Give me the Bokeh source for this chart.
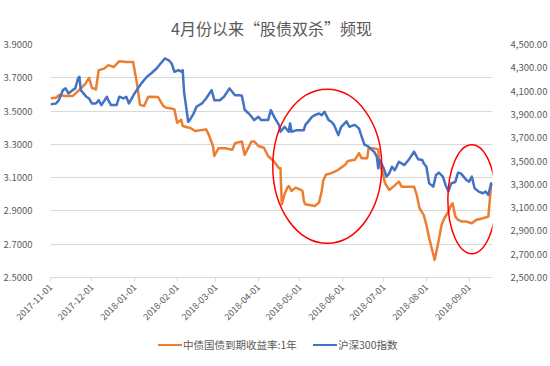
import math
import pandas as pd
from bokeh.plotting import figure
from bokeh.layouts import column
from bokeh.models import (Range1d, LinearAxis, FixedTicker, NumeralTickFormatter,
                          DatetimeTickFormatter, ColumnDataSource, Div)
from bokeh.embed import file_html
from bokeh.resources import INLINE

title_text = "4月份以来“股债双杀”频现"
bond_name = "中债国债到期收益率:1年"
index_name = "沪深300指数"

bond_dates = ["2017-11-01", "2017-11-05", "2017-11-07", "2017-11-12", "2017-11-17", "2017-11-21",
              "2017-11-26", "2017-11-29", "2017-12-01", "2017-12-04", "2017-12-06", "2017-12-10",
              "2017-12-13", "2017-12-17", "2017-12-21", "2017-12-26", "2017-12-31", "2018-01-03",
              "2018-01-05", "2018-01-08", "2018-01-11", "2018-01-18", "2018-01-22", "2018-01-24",
              "2018-01-28", "2018-01-30", "2018-02-01", "2018-02-04", "2018-02-05", "2018-02-11",
              "2018-02-14", "2018-02-22", "2018-02-24", "2018-02-27", "2018-02-28", "2018-03-03",
              "2018-03-08", "2018-03-13", "2018-03-15", "2018-03-20", "2018-03-22", "2018-03-27",
              "2018-03-29", "2018-04-01", "2018-04-05", "2018-04-08", "2018-04-12", "2018-04-16",
              "2018-04-17", "2018-04-18", "2018-04-20", "2018-04-22", "2018-04-23", "2018-04-25",
              "2018-04-28", "2018-05-01", "2018-05-03", "2018-05-04", "2018-05-05", "2018-05-12",
              "2018-05-15", "2018-05-17", "2018-05-18", "2018-05-20", "2018-05-24", "2018-05-29",
              "2018-06-03", "2018-06-05", "2018-06-10", "2018-06-13", "2018-06-15", "2018-06-19",
              "2018-06-20", "2018-06-24", "2018-06-27", "2018-06-28", "2018-06-30", "2018-07-02",
              "2018-07-05", "2018-07-08", "2018-07-12", "2018-07-14", "2018-07-23", "2018-07-25",
              "2018-07-27", "2018-07-30", "2018-08-01", "2018-08-03", "2018-08-07", "2018-08-10",
              "2018-08-12", "2018-08-14", "2018-08-17", "2018-08-19", "2018-08-20", "2018-08-22",
              "2018-08-24", "2018-08-27", "2018-08-30", "2018-09-03", "2018-09-06", "2018-09-11",
              "2018-09-15", "2018-09-17"]
bond_yield = [3.577, 3.580, 3.596, 3.590, 3.590, 3.620,
              3.660, 3.700, 3.640, 3.630, 3.746, 3.755,
              3.776, 3.765, 3.800, 3.795, 3.795, 3.656,
              3.537, 3.530, 3.586, 3.585, 3.530, 3.520,
              3.515, 3.510, 3.430, 3.447, 3.410, 3.397,
              3.380, 3.390, 3.357, 3.290, 3.230, 3.277,
              3.277, 3.267, 3.307, 3.317, 3.237, 3.317,
              3.317, 3.290, 3.280, 3.230, 3.200, 3.157,
              3.157, 2.940, 3.000, 3.040, 3.050, 3.020,
              3.040, 3.030, 3.020, 2.960, 2.940, 2.930,
              2.950, 3.020, 3.080, 3.117, 3.127, 3.147,
              3.177, 3.200, 3.207, 3.247, 3.216, 3.216,
              3.276, 3.276, 3.270, 3.176, 3.136, 3.066,
              3.026, 3.046, 3.076, 3.046, 3.046, 2.996,
              2.916, 2.876, 2.816, 2.736, 2.606, 2.726,
              2.816, 2.856, 2.896, 2.936, 2.946, 2.866,
              2.846, 2.836, 2.836, 2.826, 2.846, 2.856,
              2.866, 3.056]

index_dates = ["2017-11-01", "2017-11-05", "2017-11-07", "2017-11-10", "2017-11-12", "2017-11-14",
               "2017-11-17", "2017-11-19", "2017-11-21", "2017-11-22", "2017-11-23", "2017-11-27",
               "2017-11-29", "2017-12-01", "2017-12-04", "2017-12-06", "2017-12-08", "2017-12-12",
               "2017-12-13", "2017-12-15", "2017-12-19", "2017-12-21", "2017-12-24", "2017-12-26",
               "2017-12-28", "2018-01-01", "2018-01-06", "2018-01-10", "2018-01-13", "2018-01-17",
               "2018-01-20", "2018-01-23", "2018-01-26", "2018-01-28", "2018-01-30", "2018-02-02",
               "2018-02-04", "2018-02-05", "2018-02-06", "2018-02-09", "2018-02-10", "2018-02-13",
               "2018-02-15", "2018-02-19", "2018-02-22", "2018-02-26", "2018-02-28", "2018-03-04",
               "2018-03-07", "2018-03-11", "2018-03-15", "2018-03-18", "2018-03-20", "2018-03-22",
               "2018-03-25", "2018-03-27", "2018-03-29", "2018-04-01", "2018-04-03", "2018-04-08",
               "2018-04-10", "2018-04-13", "2018-04-16", "2018-04-17", "2018-04-20", "2018-04-23",
               "2018-04-24", "2018-04-25", "2018-04-29", "2018-05-04", "2018-05-05", "2018-05-08",
               "2018-05-10", "2018-05-12", "2018-05-15", "2018-05-17", "2018-05-19", "2018-05-22",
               "2018-05-24", "2018-05-26", "2018-05-29", "2018-05-31", "2018-06-04", "2018-06-06",
               "2018-06-10", "2018-06-13", "2018-06-15", "2018-06-17", "2018-06-20", "2018-06-22",
               "2018-06-24", "2018-06-26", "2018-06-27", "2018-06-28", "2018-07-01", "2018-07-03",
               "2018-07-05", "2018-07-07", "2018-07-09", "2018-07-12", "2018-07-16", "2018-07-19",
               "2018-07-23", "2018-07-26", "2018-07-29", "2018-07-30", "2018-08-01", "2018-08-03",
               "2018-08-06", "2018-08-08", "2018-08-10", "2018-08-13", "2018-08-15", "2018-08-17",
               "2018-08-19", "2018-08-22", "2018-08-24", "2018-08-26", "2018-08-28", "2018-08-30",
               "2018-09-01", "2018-09-03", "2018-09-05", "2018-09-08", "2018-09-11", "2018-09-13",
               "2018-09-15", "2018-09-17", "2018-09-18"]
index_close = [3986, 3994, 4022, 4108, 4123, 4080,
               4108, 4123, 4209, 4223, 4108, 4052,
               4037, 3994, 3994, 4022, 3980, 4052,
               4020, 3980, 3980, 4052, 4037, 4052,
               3994, 4080, 4166, 4223, 4251, 4294,
               4337, 4380, 4363, 4337, 4266, 4280,
               4266, 4280, 4094, 3837, 3848, 3908,
               3966, 3994, 4037, 4108, 4022, 4022,
               4052, 4123, 4065, 4065, 4060, 3940,
               3908, 3880, 3851, 3880, 3851, 3851,
               3937, 3866, 3808, 3751, 3794, 3751,
               3823, 3751, 3765, 3765, 3808, 3851,
               3880, 3894, 3908, 3894, 3923, 3851,
               3837, 3808, 3722, 3790, 3840, 3794,
               3810, 3780, 3709, 3640, 3623, 3600,
               3580, 3537, 3437, 3508, 3437, 3366,
               3394, 3451, 3420, 3494, 3465, 3508,
               3580, 3515, 3508, 3480, 3451, 3308,
               3280, 3380, 3400, 3366, 3290, 3240,
               3308, 3320, 3400, 3394, 3366, 3337,
               3323, 3366, 3266, 3237, 3223, 3237,
               3208, 3308, 3290]

month_ticks = ["2017-11-01", "2017-12-01", "2018-01-01", "2018-02-01", "2018-03-01", "2018-04-01",
               "2018-05-01", "2018-06-01", "2018-07-01", "2018-08-01", "2018-09-01"]
left_ticks = [2.5, 2.7, 2.9, 3.1, 3.3, 3.5, 3.7, 3.9]
right_ticks = [2500, 2700, 2900, 3100, 3300, 3500, 3700, 3900, 4100, 4300, 4500]

# highlight circles (centre date, centre yield)
circle_dates = ["2018-05-21", "2018-09-03"]
circle_levels = [3.168, 2.97]
circle_w = [109, 48]
circle_h = [154, 109]

GRAY = "#595959"
LIGHT = "#d9d9d9"
ORANGE = "#ED7D31"
BLUE = "#4472C4"
FONT = "Noto Sans CJK SC"

x0 = pd.Timestamp("2017-11-01")
x1 = pd.Timestamp("2018-09-18")

p = figure(frame_width=442, frame_height=233, x_axis_type="datetime",
           x_range=Range1d(x0, x1), y_range=Range1d(2.5, 3.9),
           output_backend="svg", toolbar_location=None,
           min_border_left=41, min_border_right=57, min_border_top=44, min_border_bottom=60)
p.extra_y_ranges = {"idx": Range1d(2500, 4500)}

p.title.text = title_text
p.title.align = "center"
p.title.offset = 9
p.title.text_font = FONT
p.title.text_font_size = "16px"
p.title.text_font_style = "normal"
p.title.text_color = GRAY

p.outline_line_color = None
p.xgrid.grid_line_color = None
p.ygrid.grid_line_color = LIGHT
p.ygrid.grid_line_width = 1

# x axis
xa = p.xaxis[0]
xa.ticker = FixedTicker(ticks=[pd.Timestamp(d).value / 1e6 for d in month_ticks])
fmt = "%Y-%m-%d"
xa.formatter = DatetimeTickFormatter(milliseconds=fmt, seconds=fmt, minsec=fmt, minutes=fmt,
                                     hourmin=fmt, hours=fmt, days=fmt, months=fmt, years=fmt)
xa.major_label_orientation = math.pi / 4
xa.axis_line_color = LIGHT
xa.major_tick_line_color = LIGHT
xa.major_tick_in = 0
xa.major_tick_out = 4
xa.minor_tick_line_color = None
xa.major_label_text_font = FONT
xa.major_label_text_font_size = "9px"
xa.major_label_text_color = GRAY
xa.major_label_standoff = 4

# left axis
ya = p.yaxis[0]
ya.ticker = FixedTicker(ticks=left_ticks)
ya.formatter = NumeralTickFormatter(format="0.0000")
ya.axis_line_color = None
ya.major_tick_line_color = None
ya.minor_tick_line_color = None
ya.major_label_standoff = 12
ya.major_label_text_font = FONT
ya.major_label_text_font_size = "9.5px"
ya.major_label_text_color = GRAY

# right axis
ra = LinearAxis(y_range_name="idx", ticker=FixedTicker(ticks=right_ticks),
                formatter=NumeralTickFormatter(format="0,0.00"))
ra.axis_line_color = None
ra.major_tick_line_color = None
ra.minor_tick_line_color = None
ra.major_label_standoff = 12
ra.major_label_text_font = FONT
ra.major_label_text_font_size = "9.5px"
ra.major_label_text_color = GRAY
p.add_layout(ra, "right")

bond_src = ColumnDataSource(dict(x=pd.to_datetime(bond_dates), y=bond_yield))
idx_src = ColumnDataSource(dict(x=pd.to_datetime(index_dates), y=index_close))

p.line("x", "y", source=bond_src, line_color=ORANGE, line_width=2.5, line_join="round")
p.line("x", "y", source=idx_src, line_color=BLUE, line_width=2.5, line_join="round",
       y_range_name="idx")

p.ellipse(x=pd.to_datetime(circle_dates), y=circle_levels, width=circle_w, height=circle_h,
          width_units="screen", height_units="screen", fill_color=None,
          line_color="#FF0000", line_width=1.5)

# legend strip below the chart (HTML)
def key(left, color, text):
    return (f'<span style="position:absolute;left:{left}px;top:7px;width:24px;height:0;'
            f'border-top:2.5px solid {color};"></span>'
            f'<span style="position:absolute;left:{left + 25}px;top:0;line-height:16px;'
            f'white-space:nowrap;">{text}</span>')

legend_html = (f'<div style="position:relative;width:540px;height:18px;font-family:\'{FONT}\';'
               f'font-size:10.5px;color:{GRAY};">'
               + key(158, ORANGE, bond_name) + key(313, BLUE, index_name) + '</div>')
lg = Div(text=legend_html, width=540, height=18, margin=0)

layout = column(p, lg, spacing=0)
open("out.html", "w").write(file_html(layout, INLINE))
